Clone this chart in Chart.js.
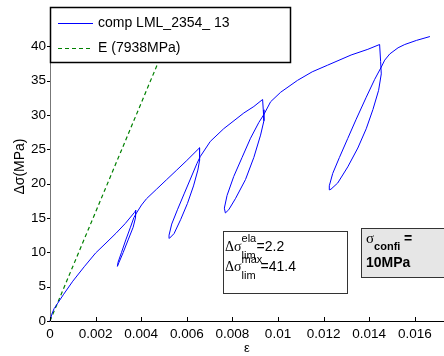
<!DOCTYPE html>
<html>
<head>
<meta charset="utf-8">
<script src="https://cdn.jsdelivr.net/npm/chart.js@4"></script>
<style>
    html, body { margin: 0; padding: 0; background: #fff; }
    .chart-box { width: 444px; height: 356px; }
</style>
</head>
<body>
<div class="chart-box"><canvas id="chart1"></canvas></div>
<script>
// Data
const testLabel = "comp LML_2354_ 13";
const testStrain = [
    0, 0.00008, 0.00018, 0.00034, 0.0006, 0.001, 0.0015, 0.002, 0.0025, 0.0029, 0.0033, 0.0037, 0.003765,
    0.00375, 0.003647, 0.003426, 0.003206, 0.003029, 0.002956,
    0.002985, 0.003132, 0.003324, 0.003529, 0.003676, 0.003794,
    0.004015, 0.004235, 0.004676, 0.005118, 0.005559, 0.006, 0.006559,
    0.006559, 0.006485, 0.006294, 0.006029, 0.005735, 0.005441, 0.005235,
    0.005221, 0.005338, 0.005588, 0.005882, 0.006176, 0.006441, 0.006588,
    0.00703, 0.007618, 0.0085, 0.008941, 0.009324,
    0.009353, 0.009382, 0.009235, 0.008941, 0.008574, 0.008132, 0.007838, 0.007691,
    0.007647, 0.007765, 0.008059, 0.008426, 0.008794, 0.009162, 0.009382,
    0.009676, 0.010118, 0.010853, 0.0115, 0.012176, 0.013206, 0.013941, 0.014456,
    0.0145, 0.014529, 0.014412, 0.014162, 0.013868, 0.0135, 0.013059, 0.012618, 0.012324, 0.01225,
    0.01225, 0.0124, 0.01269, 0.01306, 0.01343, 0.01387, 0.01424, 0.01453, 0.01468,
    0.0149, 0.015265, 0.015559, 0.016074, 0.016662
];
const testStress = [
    0, 1.0, 1.8, 2.6, 3.9, 5.8, 7.9, 9.9, 11.5, 12.8, 14.2, 15.8, 16.11,
    15.05, 13.66, 11.81, 9.95, 8.56, 7.96,
    8.56, 9.95, 11.81, 13.66, 15.05, 15.74,
    16.9, 17.82, 19.21, 20.6, 21.99, 23.38, 25.23,
    23.38, 21.99, 19.68, 17.13, 14.81, 12.73, 12.04,
    12.5, 14.12, 16.2, 18.52, 20.83, 22.92, 23.94,
    26.16, 28.01, 30.3, 31.25, 32.27,
    30.79, 29.17, 27.08, 23.84, 20.6, 17.82, 16.2, 15.74,
    16.44, 18.29, 21.06, 23.84, 26.62, 28.94, 30.09,
    31.94, 33.33, 35.05, 36.3, 37.27, 38.75, 39.58, 40.28,
    37.8, 36.0, 33.6, 30.8, 28.0, 25.2, 22.45, 20.1, 19.2, 19.1,
    19.7, 21.5, 23.8, 26.6, 29.4, 32.6, 35.2, 37.0, 38.0,
    38.9, 39.8, 40.28, 40.88, 41.44
];
const modulusLabel = "E (7938MPa)";
const modulusStrain = [0, 0.0055];
const modulusStress = [0, 43.66];
const xTicks = [0, 0.002, 0.004, 0.006, 0.008, 0.01, 0.012, 0.014, 0.016];
const yTicks = [0, 5, 10, 15, 20, 25, 30, 35, 40];

const sans = "'Liberation Sans', Arial, Helvetica, sans-serif";
const serif = "'Liberation Serif', 'Times New Roman', serif";

// draw a run of text pieces: [text, font, dy]
const drawRuns = (ctx, x, y, runs) => {
    let cx = x;
    runs.forEach(([text, font, dy]) => {
        ctx.font = font;
        ctx.fillText(text, cx, y + (dy || 0));
        cx += ctx.measureText(text).width;
    });
};

// Ticks, legend and text boxes
const extras = {
    id: "extras",
    afterDraw(chart) {
        const { ctx, chartArea, scales } = chart;
        ctx.save();

        // ticks
        ctx.strokeStyle = "#000";
        ctx.lineWidth = 1;
        ctx.beginPath();
        xTicks.forEach(v => {
            const px = Math.round(scales.x.getPixelForValue(v)) + 0.5;
            ctx.moveTo(px, chartArea.bottom);
            ctx.lineTo(px, chartArea.bottom - 4);
        });
        yTicks.forEach(v => {
            const py = Math.round(scales.y.getPixelForValue(v)) + 0.5;
            ctx.moveTo(chartArea.left, py);
            ctx.lineTo(chartArea.left - 3, py);
        });
        ctx.stroke();

        // legend
        ctx.fillStyle = "#fff";
        ctx.fillRect(50, 7, 240, 55);
        ctx.strokeStyle = "#000";
        ctx.lineWidth = 1.5;
        ctx.strokeRect(50.5, 7.5, 240, 55);

        const sets = chart.data.datasets;
        ctx.lineWidth = 1;
        ctx.strokeStyle = sets[0].borderColor;
        ctx.beginPath();
        ctx.moveTo(58, 23.5);
        ctx.lineTo(93, 23.5);
        ctx.stroke();
        ctx.strokeStyle = sets[1].borderColor;
        ctx.lineWidth = 1.2;
        ctx.setLineDash([4, 3]);
        ctx.beginPath();
        ctx.moveTo(58, 48.5);
        ctx.lineTo(93, 48.5);
        ctx.stroke();
        ctx.setLineDash([]);

        ctx.fillStyle = "#000";
        ctx.textBaseline = "middle";
        ctx.font = `14px ${sans}`;
        ctx.fillText(sets[0].label, 98, 23);
        ctx.fillText(sets[1].label, 98, 48);

        // limits box
        ctx.fillStyle = "#fff";
        ctx.fillRect(223, 231, 124, 62);
        ctx.strokeStyle = "#333";
        ctx.lineWidth = 1;
        ctx.strokeRect(223.5, 231.5, 124, 62);

        ctx.fillStyle = "#000";
        ctx.textBaseline = "alphabetic";
        const big = `14px ${serif}`;
        const small = `11px ${sans}`;
        const main = `14px ${sans}`;
        ctx.font = big;
        const dsW = ctx.measureText("Δσ").width;
        drawRuns(ctx, 225, 251, [["Δσ", big]]);
        drawRuns(ctx, 225 + dsW, 251, [["ela", small, -9]]);
        drawRuns(ctx, 225 + dsW, 251, [["lim", small, 8]]);
        drawRuns(ctx, 225 + dsW + 15, 251, [["=2.2", main]]);
        drawRuns(ctx, 225, 271, [["Δσ", big]]);
        drawRuns(ctx, 225 + dsW, 271, [["max", small, -8]]);
        drawRuns(ctx, 225 + dsW, 271, [["lim", small, 8]]);
        drawRuns(ctx, 225 + dsW + 19, 271, [["=41.4", main]]);

        // confinement box
        ctx.fillStyle = "#e6e6e6";
        ctx.fillRect(361, 228, 90, 49);
        ctx.strokeStyle = "#333";
        ctx.strokeRect(361.5, 228.5, 90, 49);
        ctx.fillStyle = "#000";
        drawRuns(ctx, 366, 243, [["σ", `15px ${serif}`], ["confi", `bold 11px ${sans}`, 7]]);
        drawRuns(ctx, 404, 243, [["=", `bold 14px ${sans}`]]);
        drawRuns(ctx, 366, 267, [["10MPa", `bold 14px ${sans}`]]);

        ctx.restore();
    }
};

const chart1 = document.querySelector("#chart1");
if (chart1) {
    new Chart(chart1, {
        type: "scatter",
        data: {
            datasets: [
                {
                    label: testLabel,
                    data: testStrain.map((x, i) => ({ x: x, y: testStress[i] })),
                    showLine: true,
                    borderColor: "#0000ff",
                    borderWidth: 1,
                    pointRadius: 0,
                    tension: 0,
                    clip: false
                },
                {
                    label: modulusLabel,
                    data: modulusStrain.map((x, i) => ({ x: x, y: modulusStress[i] })),
                    showLine: true,
                    borderColor: "#008000",
                    borderWidth: 1.2,
                    borderDash: [4, 3],
                    pointRadius: 0
                }
            ]
        },
        options: {
            responsive: true,
            maintainAspectRatio: false,
            animation: false,
            layout: { padding: 0 },
            plugins: {
                legend: { display: false },
                tooltip: { enabled: false }
            },
            scales: {
                x: {
                    type: "linear",
                    min: 0,
                    max: 0.01728,
                    afterBuildTicks: (scale) => { scale.ticks = xTicks.map(v => ({ value: v })); },
                    afterFit: (scale) => { scale.height = 35; },
                    grid: { display: false, drawTicks: false },
                    border: { display: true, color: "#000", width: 1 },
                    ticks: {
                        autoSkip: false,
                        maxRotation: 0,
                        padding: 5,
                        color: "#000",
                        font: { family: sans, size: 13.5 },
                        callback: (value) => String(value)
                    },
                    title: {
                        display: true,
                        text: "ε",
                        color: "#000",
                        font: { family: sans, size: 13 },
                        padding: { top: 1, bottom: 0 }
                    }
                },
                y: {
                    type: "linear",
                    min: 0,
                    max: 45,
                    afterBuildTicks: (scale) => { scale.ticks = yTicks.map(v => ({ value: v })); },
                    afterFit: (scale) => { scale.width = 50; },
                    grid: { display: false, drawTicks: false },
                    border: { display: true, color: "#777", width: 1 },
                    ticks: {
                        autoSkip: false,
                        padding: 4,
                        color: "#000",
                        font: { family: sans, size: 13.5 },
                        callback: (value) => String(value)
                    },
                    title: {
                        display: true,
                        text: "Δσ(MPa)",
                        color: "#000",
                        font: { family: sans, size: 14 },
                        padding: { top: 12, bottom: 0 }
                    }
                }
            }
        },
        plugins: [extras]
    });
}
</script>
</body>
</html>
